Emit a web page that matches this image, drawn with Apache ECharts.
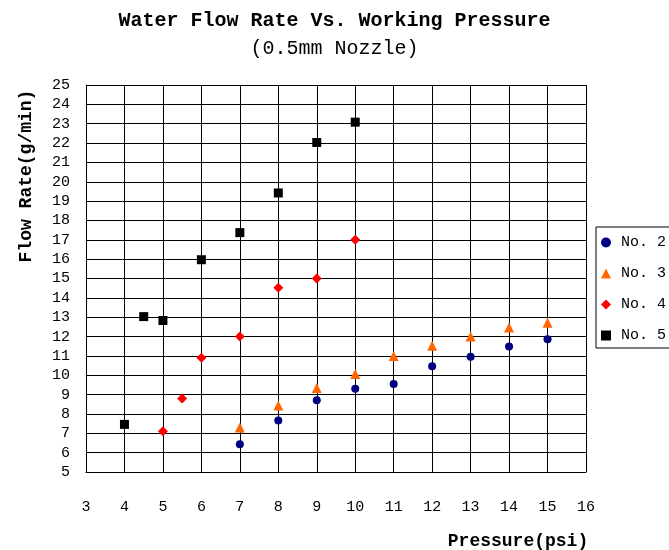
<!DOCTYPE html>
<html>
<head>
<meta charset="utf-8">
<script src="https://cdn.jsdelivr.net/npm/echarts@6/dist/echarts.min.js"></script>
<style>
    html, body { margin: 0; padding: 0; background: #fff; }
    #chart { width: 669px; height: 550px; }
</style>
</head>
<body>
<div id="chart"></div>
<script>
    // pressure (psi) / flow rate (g/min), one pair of arrays per nozzle
    var no2X = [7, 8, 9, 10, 11, 12, 13, 14, 15];
    var no2Y = [6.43, 7.66, 8.71, 9.3, 9.55, 10.47, 10.95, 11.48, 11.86];
    var no3X = [7, 8, 9, 10, 11, 12, 13, 14, 15];
    var no3Y = [7.3, 8.44, 9.34, 10.07, 11.0, 11.52, 12.0, 12.47, 12.71];
    var no4X = [5, 5.5, 6, 7, 8, 9, 10];
    var no4Y = [7.1, 8.8, 10.9, 12.0, 14.52, 15.0, 17.0];
    var no5X = [4, 4.5, 5, 6, 7, 8, 9, 10];
    var no5Y = [7.46, 13.03, 12.83, 15.97, 17.37, 19.42, 22.03, 23.08];
    var seriesNames = ['No. 2', 'No. 3', 'No. 4', 'No. 5'];

    var MONO = 'Liberation Mono';

    function pairs(xs, ys){
        var out = [];
        for (var i = 0; i < xs.length; i++) {
            out.push([xs[i], ys[i]]);
        }
        return out;
    }

    var chart = echarts.init(document.getElementById('chart'));
    chart.setOption({
        backgroundColor: '#fff',
        animation: false,
        title: {
            text: 'Water Flow Rate Vs. Working Pressure',
            subtext: '(0.5mm Nozzle)',
            left: 'center',
            top: 6,
            itemGap: 8,
            textStyle: { fontFamily: MONO, fontSize: 20, fontWeight: 'bold', color: '#000' },
            subtextStyle: { fontFamily: MONO, fontSize: 20, color: '#000' }
        },
        legend: {
            orient: 'vertical',
            left: 596,
            top: 227,
            data: seriesNames,
            itemWidth: 10,
            itemHeight: 10,
            itemGap: 16,
            padding: [8, 30, 5, 5],
            borderColor: '#000',
            borderWidth: 1,
            backgroundColor: '#fff',
            textStyle: { fontFamily: MONO, fontSize: 15, color: '#000', padding: [0, 0, 0, 5] }
        },
        grid: {
            left: 86,
            right: 83,
            top: 85,
            bottom: 78
        },
        xAxis: {
            type: 'value',
            min: 3,
            max: 16,
            interval: 1,
            axisLine: { lineStyle: { color: '#000' } },
            axisTick: { show: false },
            axisLabel: { margin: 28, fontFamily: MONO, fontSize: 15, color: '#000' },
            splitLine: { show: true, lineStyle: { color: '#000' } }
        },
        yAxis: {
            type: 'value',
            min: 5,
            max: 25,
            interval: 1,
            axisLine: { show: true, lineStyle: { color: '#000' } },
            axisTick: { show: false },
            axisLabel: { margin: 16, fontFamily: MONO, fontSize: 15, color: '#000' },
            splitLine: { show: true, lineStyle: { color: '#000' } }
        },
        graphic: [
            {
                type: 'text',
                x: 26,
                y: 176,
                rotation: Math.PI / 2,
                style: {
                    text: 'Flow Rate(g/min)',
                    fontFamily: MONO,
                    fontSize: 18,
                    fontWeight: 'bold',
                    fill: '#000',
                    align: 'center',
                    verticalAlign: 'middle'
                }
            },
            {
                type: 'text',
                x: 518,
                y: 541,
                style: {
                    text: 'Pressure(psi)',
                    fontFamily: MONO,
                    fontSize: 18,
                    fontWeight: 'bold',
                    fill: '#000',
                    align: 'center',
                    verticalAlign: 'middle'
                }
            }
        ],
        series: [
            {
                name: seriesNames[0],
                type: 'scatter',
                symbol: 'circle',
                symbolSize: 8,
                itemStyle: { color: '#000080', opacity: 1 },
                data: pairs(no2X, no2Y)
            },
            {
                name: seriesNames[1],
                type: 'scatter',
                symbol: 'triangle',
                symbolSize: 10,
                itemStyle: { color: '#FF6600', opacity: 1 },
                data: pairs(no3X, no3Y)
            },
            {
                name: seriesNames[2],
                type: 'scatter',
                symbol: 'diamond',
                symbolSize: 10,
                itemStyle: { color: '#FF0000', opacity: 1 },
                data: pairs(no4X, no4Y)
            },
            {
                name: seriesNames[3],
                type: 'scatter',
                symbol: 'rect',
                symbolSize: 9,
                itemStyle: { color: '#000000', opacity: 1 },
                data: pairs(no5X, no5Y)
            }
        ]
    });
</script>
</body>
</html>
